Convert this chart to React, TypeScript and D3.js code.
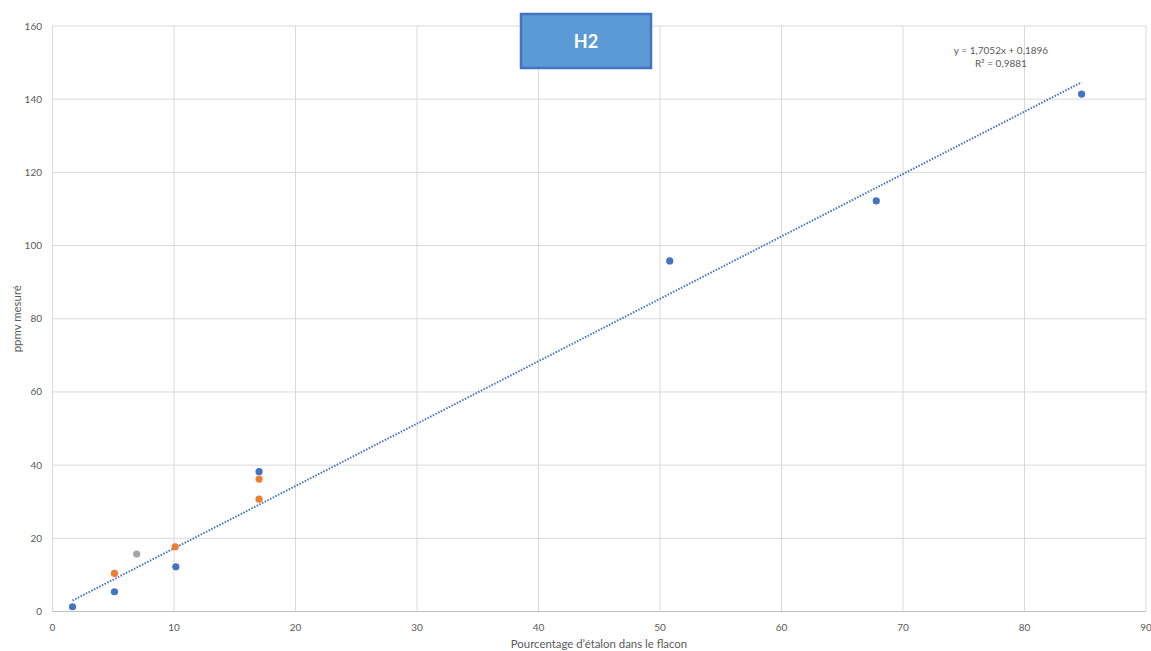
import React from "react";
import * as d3 from "d3";

const seriesBlue = [
  { x: 1.65, y: 1.3 },
  { x: 5.1, y: 5.4 },
  { x: 10.15, y: 12.2 },
  { x: 17.0, y: 38.2 },
  { x: 50.8, y: 95.8 },
  { x: 67.8, y: 112.2 },
  { x: 84.7, y: 141.4 },
];
const seriesOrange = [
  { x: 5.1, y: 10.4 },
  { x: 10.1, y: 17.7 },
  { x: 17.0, y: 36.2 },
  { x: 17.0, y: 30.7 },
];
const seriesGray = [{ x: 6.93, y: 15.7 }];
const slope = 1.7052;
const intercept = 0.1896;
const xTicks = [0, 10, 20, 30, 40, 50, 60, 70, 80, 90];
const yTicks = [0, 20, 40, 60, 80, 100, 120, 140, 160];
const title = "H2";
const equation = "y = 1,7052x + 0,1896";
const r2 = "R² = 0,9881";
const xTitle = "Pourcentage d’étalon dans le flacon";
const yTitle = "ppmv mesuré";

export default function App() {
  const W = 1151, H = 651;
  const x = d3.scaleLinear().domain([0, 90]).range([52.5, 1146]);
  const y = d3.scaleLinear().domain([0, 160]).range([611.5, 26]);
  const font = "Lato, 'Liberation Sans', sans-serif";
  const txt = "#595959";
  const trendX = [d3.min(seriesBlue, (d) => d.x)!, d3.max(seriesBlue, (d) => d.x)!];
  const line = d3
    .line<number>()
    .x((v) => x(v))
    .y((v) => y(slope * v + intercept));
  const dot = (data: { x: number; y: number }[], color: string, key: string) =>
    data.map((d, i) => (
      <circle key={key + i} cx={x(d.x)} cy={y(d.y)} r={3.6} fill={color} />
    ));
  return (
    <svg width={W} height={H} style={{ position: "absolute", left: 0, top: 0, background: "#fff" }} fontFamily={font}>
      <rect width={W} height={H} fill="#fff" />
      {xTicks.map((t) => (
        <line key={"gx" + t} x1={x(t)} x2={x(t)} y1={y(0)} y2={y(160)} stroke="#d9d9d9" strokeWidth={1} />
      ))}
      {yTicks.map((t) => (
        <line key={"gy" + t} x1={x(0)} x2={x(90)} y1={y(t)} y2={y(t)} stroke="#d9d9d9" strokeWidth={1} />
      ))}
      <line x1={x(0)} x2={x(90)} y1={y(0)} y2={y(0)} stroke="#bfbfbf" strokeWidth={1} />
      {xTicks.map((t) => (
        <text key={"tx" + t} x={x(t)} y={631} textAnchor="middle" fontSize={10} fill={txt}>
          {t}
        </text>
      ))}
      {yTicks.map((t) => (
        <text key={"ty" + t} x={42} y={y(t) + 3.5} textAnchor="end" fontSize={10} fill={txt}>
          {t}
        </text>
      ))}
      <text x={599} y={647.5} textAnchor="middle" fontSize={11.4} fill={txt}>
        {xTitle}
      </text>
      <text
        transform={`translate(21,${(y(0) + y(160)) / 2}) rotate(-90)`}
        textAnchor="middle"
        fontSize={11.4}
        fill={txt}
      >
        {yTitle}
      </text>
      <path d={line(trendX) || ""} fill="none" stroke="#4472C4" strokeWidth={2} strokeDasharray="1.5 1.5" />
      {dot(seriesBlue, "#4472C4", "b")}
      {dot(seriesOrange, "#ED7D31", "o")}
      {dot(seriesGray, "#A5A5A5", "g")}
      <rect x={521} y={14} width={130} height={54} fill="#5B9BD5" stroke="#4472C4" strokeWidth={2.5} />
      <text x={586} y={47.5} textAnchor="middle" fontSize={18} fontWeight="bold" fill="#fff">
        {title}
      </text>
      <text x={1001} y={54} textAnchor="middle" fontSize={10} fill={txt}>
        {equation}
      </text>
      <text x={1001} y={67} textAnchor="middle" fontSize={10} fill={txt}>
        {r2}
      </text>
    </svg>
  );
}
